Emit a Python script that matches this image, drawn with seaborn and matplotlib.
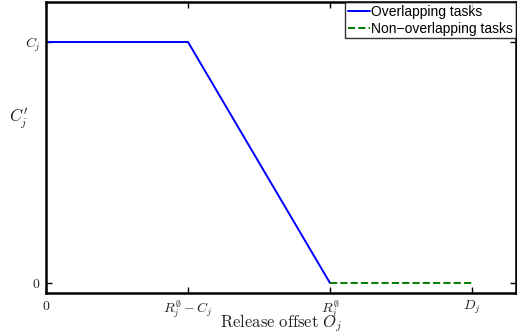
import matplotlib
matplotlib.use("Agg")
import matplotlib.pyplot as plt
import seaborn as sns
import pandas as pd

# data (abstract units: 0, R-C, R, D)
overlap_x = [0, 1, 2]
overlap_y = [1, 1, 0]
nonoverlap_x = [2, 3]
nonoverlap_y = [0, 0]
xtick_pos = [0, 1, 2, 3]
xtick_labels = [r'$0$', r'$R_j^{\emptyset}-C_j$', r'$R_j^{\emptyset}$', r'$D_j$']
ytick_pos = [0, 1]
ytick_labels = [r'$0$', r'$C_j$']

sns.set_theme(style="white")
plt.rcParams['font.family'] = ['Liberation Sans', 'DejaVu Sans']
plt.rcParams['mathtext.fontset'] = 'cm'

fig = plt.figure(figsize=(5.17, 3.34), dpi=100)
ax = fig.add_axes([46/517, 1 - 293/334, (516-46)/517, (293-2)/334])

df1 = pd.DataFrame({'x': overlap_x, 'y': overlap_y})
df2 = pd.DataFrame({'x': nonoverlap_x, 'y': nonoverlap_y})
sns.lineplot(data=df1, x='x', y='y', ax=ax, color='#0000ff', lw=1.4,
             label='Overlapping tasks', sort=False)
sns.lineplot(data=df2, x='x', y='y', ax=ax, color='#008000', lw=1.4,
             linestyle='--', label='Non\u2212overlapping tasks', sort=False)

ax.set_xlim(0, 3.31)
ax.set_ylim(-0.0415, 1.166)
ax.set_xticks(xtick_pos)
ax.set_xticklabels(xtick_labels, fontsize=10)
ax.set_yticks(ytick_pos)
ax.set_yticklabels(ytick_labels, fontsize=10)
ax.tick_params(direction='in', length=4, width=1, top=True, right=True,
               bottom=True, left=True, colors='black', labelcolor='#222222', pad=4)
for s in ax.spines.values():
    s.set_color('black')
    s.set_linewidth(1.8)

ax.set_xlabel(r'$\mathrm{Release\ offset}\ O_j$', fontsize=12, labelpad=0, color='#222222')
ax.set_ylabel(r"$C_j^{\prime}$", fontsize=12, rotation=0, color='#222222')
ax.yaxis.set_label_coords(-0.058, 0.555)
ax.xaxis.set_label_coords(0.5, -0.065)
ax.grid(False)

leg = ax.legend(loc='upper right', fontsize=10, frameon=True, fancybox=False,
                borderpad=0.2, labelspacing=0.2, handlelength=1.6, handletextpad=0.1,
                borderaxespad=0.0, edgecolor='black')
leg.get_frame().set_linewidth(1.0)
for t in leg.get_texts():
    t.set_color('black')

fig.savefig('out.png', dpi=100)
